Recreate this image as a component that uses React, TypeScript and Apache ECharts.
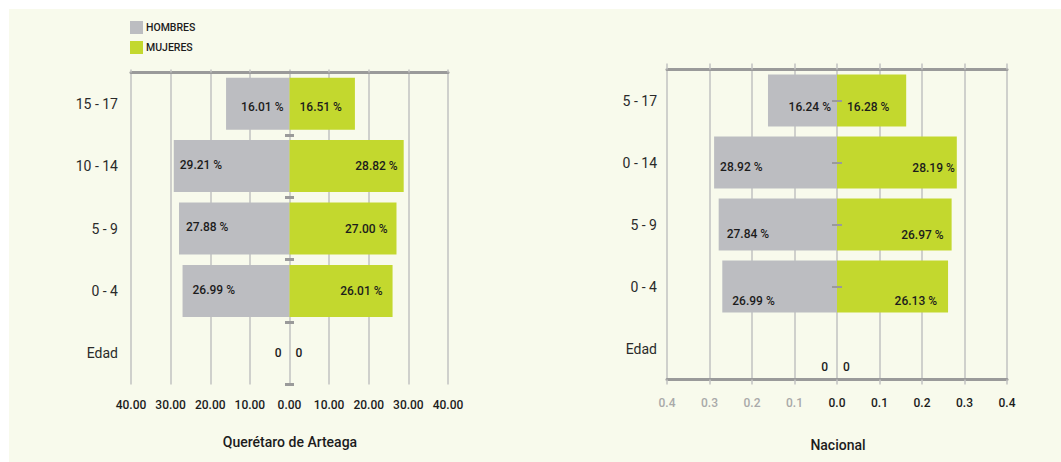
import React, { useEffect, useRef } from "react";
import * as echarts from "echarts";

// ---- Data ----
const qroCategories = ["15 - 17", "10 - 14", "5 - 9", "0 - 4", "Edad"];
const qroHombres = [16.01, 29.21, 27.88, 26.99, 0];
const qroMujeres = [16.51, 28.82, 27.0, 26.01, 0];

const nacCategories = ["5 - 17", "0 - 14", "5 - 9", "0 - 4", "Edad"];
const nacHombres = [0.1624, 0.2892, 0.2784, 0.2699, 0];
const nacMujeres = [0.1628, 0.2819, 0.2697, 0.2613, 0];

const qroAxisRange = [-40, 40, 10];
const nacAxisRange = [-0.4, 0.4, 0.1];

const seriesNames = ["HOMBRES", "MUJERES"];
const chartTitles = ["Querétaro de Arteaga", "Nacional"];

// ---- Styles ----
const FONT = "Roboto, 'DejaVu Sans', sans-serif";
const GRAY = "#bcbdc1";
const GREEN = "#c3d82e";
const AXIS = "#9a9a9a";
const GRID = "#c2c2c2";
const TEXT = "#1c1c1c";

// label placement per row (style, not data)
type LP = { position: string; distance: number; dy: number };
const qroHLabel: LP[] = [
  { position: "insideRight", distance: 6, dy: 3 },
  { position: "insideLeft", distance: 6, dy: -1 },
  { position: "insideLeft", distance: 7, dy: -2 },
  { position: "insideLeft", distance: 10, dy: -1 },
  { position: "left", distance: 8, dy: 0 },
];
const qroMLabel: LP[] = [
  { position: "insideLeft", distance: 10, dy: 3 },
  { position: "insideRight", distance: 6, dy: 0 },
  { position: "insideRight", distance: 9, dy: 0 },
  { position: "insideRight", distance: 10, dy: 0 },
  { position: "right", distance: 6, dy: 0 },
];
const nacHLabel: LP[] = [
  { position: "insideRight", distance: 6, dy: 6 },
  { position: "insideLeft", distance: 6, dy: 4 },
  { position: "insideLeft", distance: 8, dy: 9 },
  { position: "insideLeft", distance: 10, dy: 14 },
  { position: "left", distance: 9, dy: 18 },
];
const nacMLabel: LP[] = [
  { position: "insideLeft", distance: 10, dy: 6 },
  { position: "insideRight", distance: 2, dy: 5 },
  { position: "insideRight", distance: 8, dy: 10 },
  { position: "insideRight", distance: 11, dy: 14 },
  { position: "right", distance: 6, dy: 18 },
];

const labelBase = {
  show: true,
  color: TEXT,
  fontFamily: FONT,
  fontSize: 12,
  fontWeight: 500,
};

function makeData(values: number[], sign: number, lps: LP[], scale: number) {
  return values.map((v, i) => ({
    value: sign * v,
    label: {
      ...labelBase,
      position: lps[i].position,
      distance: lps[i].distance,
      offset: [0, lps[i].dy],
      formatter: () => (v === 0 ? "0" : (v * scale).toFixed(2) + " %"),
    },
  }));
}

export default function App() {
  const ref = useRef<HTMLDivElement>(null);

  useEffect(() => {
    if (!ref.current) return;
    const chart = echarts.init(ref.current, undefined, { renderer: "svg" });

    const hiddenLine = { show: false, onZero: false };

    const option: any = {
      animation: false,
      backgroundColor: "transparent",
      legend: {
        orient: "vertical",
        left: 125,
        top: 16,
        itemWidth: 13,
        itemHeight: 13,
        itemGap: 7,
        icon: "rect",
        data: seriesNames,
        textStyle: { fontFamily: FONT, fontSize: 10.5, fontWeight: 500, color: TEXT, padding: [0, 0, 0, -2] },
      },
      grid: [
        { left: 131, top: 72.5, width: 317, height: 312 },
        { left: 667, top: 69.5, width: 340, height: 310 },
      ],
      xAxis: [
        {
          gridIndex: 0,
          type: "value",
          position: "bottom",
          min: qroAxisRange[0],
          max: qroAxisRange[1],
          interval: qroAxisRange[2],
          axisLine: hiddenLine,
          axisTick: { show: false },
          axisLabel: {
            margin: 14,
            color: TEXT,
            fontFamily: FONT,
            fontSize: 12,
            fontWeight: 500,
            formatter: (v: number) => Math.abs(v).toFixed(2),
          },
          splitLine: { show: true, lineStyle: { color: GRID, width: 1.5 } },
        },
        {
          gridIndex: 0,
          type: "value",
          position: "top",
          min: qroAxisRange[0],
          max: qroAxisRange[1],
          interval: qroAxisRange[2],
          axisLine: { show: true, onZero: false, lineStyle: { color: AXIS, width: 3 } },
          axisTick: { show: true, length: 3, lineStyle: { color: GRID, width: 1.5 } },
          axisLabel: { show: false },
          splitLine: { show: false },
        },
        {
          gridIndex: 1,
          type: "value",
          position: "bottom",
          min: nacAxisRange[0],
          max: nacAxisRange[1],
          interval: nacAxisRange[2],
          axisLine: { show: true, onZero: false, lineStyle: { color: AXIS, width: 3 } },
          axisTick: { show: true, length: 5, lineStyle: { color: GRID, width: 1.5 } },
          axisLabel: {
            margin: 17,
            fontFamily: FONT,
            fontSize: 12,
            fontWeight: 500,
            formatter: (v: number) => {
              const t = Math.abs(v).toFixed(1);
              return v < -1e-9 ? "{g|" + t + "}" : "{b|" + t + "}";
            },
            rich: {
              g: { color: "#a9a9a9", fontFamily: FONT, fontSize: 12, fontWeight: 500 },
              b: { color: TEXT, fontFamily: FONT, fontSize: 12, fontWeight: 500 },
            },
          },
          splitLine: { show: true, lineStyle: { color: GRID, width: 1.5 } },
        },
        {
          gridIndex: 1,
          type: "value",
          position: "top",
          min: nacAxisRange[0],
          max: nacAxisRange[1],
          interval: nacAxisRange[2],
          axisLine: { show: true, onZero: false, lineStyle: { color: AXIS, width: 3 } },
          axisTick: { show: true, length: 6, lineStyle: { color: GRID, width: 1.5 } },
          axisLabel: { show: false },
          splitLine: { show: false },
        },
      ],
      yAxis: [
        {
          gridIndex: 0,
          type: "category",
          inverse: true,
          position: "left",
          data: qroCategories,
          axisLine: hiddenLine,
          axisTick: { show: false },
          axisLabel: { margin: 13, color: "#2a2a2a", fontFamily: FONT, fontSize: 14 },
        },
        {
          gridIndex: 0,
          type: "category",
          inverse: true,
          position: "left",
          offset: -163,
          z: 5,
          data: qroCategories,
          axisLine: hiddenLine,
          axisTick: { show: true, length: 9, lineStyle: { color: AXIS, width: 3 } },
          axisLabel: { show: false },
        },
        {
          gridIndex: 1,
          type: "category",
          inverse: true,
          position: "left",
          data: nacCategories,
          axisLine: hiddenLine,
          axisTick: { show: false },
          axisLabel: { margin: 10, color: "#2a2a2a", fontFamily: FONT, fontSize: 14 },
        },
        {
          gridIndex: 1,
          type: "category",
          inverse: true,
          position: "left",
          offset: -175,
          z: 5,
          data: nacCategories,
          axisLine: hiddenLine,
          axisTick: {
            show: true,
            alignWithLabel: true,
            length: 10,
            interval: (i: number) => i < nacCategories.length - 1,
            lineStyle: { color: AXIS, width: 2 },
          },
          axisLabel: { show: false },
        },
      ],
      series: [
        {
          name: seriesNames[0],
          type: "bar",
          xAxisIndex: 0,
          yAxisIndex: 0,
          stack: "qro",
          barWidth: 52,
          itemStyle: { color: GRAY },
          data: makeData(qroHombres, -1, qroHLabel, 1),
        },
        {
          name: seriesNames[1],
          type: "bar",
          xAxisIndex: 0,
          yAxisIndex: 0,
          stack: "qro",
          barWidth: 52,
          itemStyle: { color: GREEN },
          data: makeData(qroMujeres, 1, qroMLabel, 1),
        },
        {
          name: seriesNames[0],
          type: "bar",
          xAxisIndex: 2,
          yAxisIndex: 2,
          stack: "nac",
          barWidth: 52,
          itemStyle: { color: GRAY },
          data: makeData(nacHombres, -1, nacHLabel, 100),
        },
        {
          name: seriesNames[1],
          type: "bar",
          xAxisIndex: 2,
          yAxisIndex: 2,
          stack: "nac",
          barWidth: 52,
          itemStyle: { color: GREEN },
          data: makeData(nacMujeres, 1, nacMLabel, 100),
        },
      ],
      graphic: [
        {
          type: "text",
          x: 290,
          y: 442,
          style: {
            text: chartTitles[0],
            align: "center",
            verticalAlign: "middle",
            fill: TEXT,
            fontFamily: FONT,
            fontSize: 14,
            fontWeight: 500,
          },
        },
        {
          type: "text",
          x: 838,
          y: 445,
          style: {
            text: chartTitles[1],
            align: "center",
            verticalAlign: "middle",
            fill: TEXT,
            fontFamily: FONT,
            fontSize: 14,
            fontWeight: 500,
          },
        },
      ],
    };

    chart.setOption(option);
    return () => chart.dispose();
  }, []);

  return (
    <div
      style={{
        position: "fixed",
        left: 0,
        top: 0,
        width: 1061,
        height: 462,
        background: "#ffffff",
      }}
    >
      <div
        style={{
          position: "absolute",
          left: 9,
          top: 9,
          width: 1052,
          height: 453,
          background: "#f8faec",
        }}
      />
      <div ref={ref} style={{ position: "absolute", left: 0, top: 0, width: 1061, height: 462 }} />
    </div>
  );
}
